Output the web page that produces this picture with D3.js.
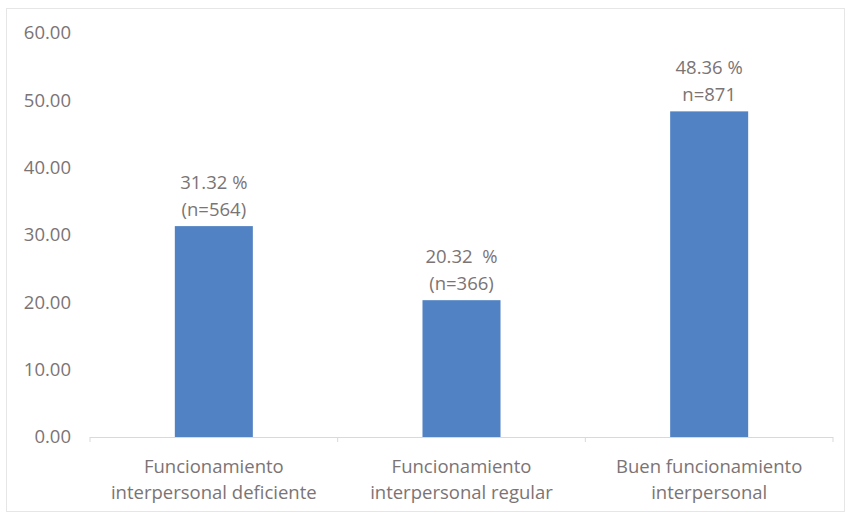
<!DOCTYPE html>
<html><head><meta charset="utf-8">
<script src="https://cdn.jsdelivr.net/npm/d3@7"></script>
<style>body{margin:0;background:#fff}svg{display:block}</style>
</head><body>
<script>
const categories = [["Funcionamiento","interpersonal deficiente"],["Funcionamiento","interpersonal regular"],["Buen funcionamiento","interpersonal"]];
const values = [31.32, 20.32, 48.36];
const pctLabels = ["31.32 %", "20.32  %", "48.36 %"];
const nLabels = ["(n=564)", "(n=366)", "n=871"];
const yTicks = [0, 10, 20, 30, 40, 50, 60];

const W = 849, H = 515;
const m = {left: 90, right: 16, top: 33, bottom: 78};
const svg = d3.select("body").append("svg").attr("width", W).attr("height", H);
svg.append("rect").attr("x", 6.5).attr("y", 8.5).attr("width", 838).attr("height", 503)
  .attr("fill", "#fff").attr("stroke", "#e6e6e6");

const font = "'Open Sans', sans-serif";
const fs = 18.5;
const tcol = "#7b7474";
const x = d3.scaleBand().domain(d3.range(values.length)).range([m.left, W - m.right]).paddingInner(0.685).paddingOuter(0.3425);
const y = d3.scaleLinear().domain([0, 60]).range([H - m.bottom, m.top]);

const g = svg.append("g");
// y tick labels
g.selectAll(".yt").data(yTicks).join("text")
  .attr("x", 71).attr("y", d => y(d)).attr("dy", "0.35em")
  .attr("text-anchor", "end").attr("font-family", font).attr("font-size", fs).attr("fill", tcol)
  .text(d => d3.format(".2f")(d));

// bars
g.selectAll(".bar").data(values).join("rect")
  .attr("x", (d, i) => x(i)).attr("width", x.bandwidth())
  .attr("y", d => y(d)).attr("height", d => y(0) - y(d))
  .attr("fill", "#5182c3");

// x axis line and ticks
const x0 = m.left, x1 = W - m.right;
g.append("line").attr("x1", x0).attr("x2", x1).attr("y1", y(0) + 0.5).attr("y2", y(0) + 0.5).attr("stroke", "#d9d9d9");
const step = x.step();
const bounds = d3.range(values.length + 1).map(i => x0 + i * step);
g.selectAll(".xt").data(bounds).join("line")
  .attr("x1", d => d).attr("x2", d => d).attr("y1", y(0)).attr("y2", y(0) + 5).attr("stroke", "#d9d9d9");

// category labels
categories.forEach((lines, i) => {
  const cx = x(i) + x.bandwidth() / 2;
  lines.forEach((t, j) => {
    g.append("text").attr("x", cx).attr("y", y(0) + 30 + j * 26).attr("dy", "0.35em")
      .attr("text-anchor", "middle").attr("font-family", font).attr("font-size", fs).attr("fill", tcol).text(t);
  });
});

// data labels
values.forEach((v, i) => {
  const cx = x(i) + x.bandwidth() / 2;
  g.append("text").attr("x", cx).attr("y", y(v) - 44).attr("dy", "0.35em")
    .attr("text-anchor", "middle").attr("font-family", font).attr("font-size", fs).attr("fill", tcol)
    .attr("xml:space", "preserve").style("white-space", "pre").text(pctLabels[i]);
  g.append("text").attr("x", cx).attr("y", y(v) - 17).attr("dy", "0.35em")
    .attr("text-anchor", "middle").attr("font-family", font).attr("font-size", fs).attr("fill", tcol)
    .text(nLabels[i]);
});
</script>
</body></html>
